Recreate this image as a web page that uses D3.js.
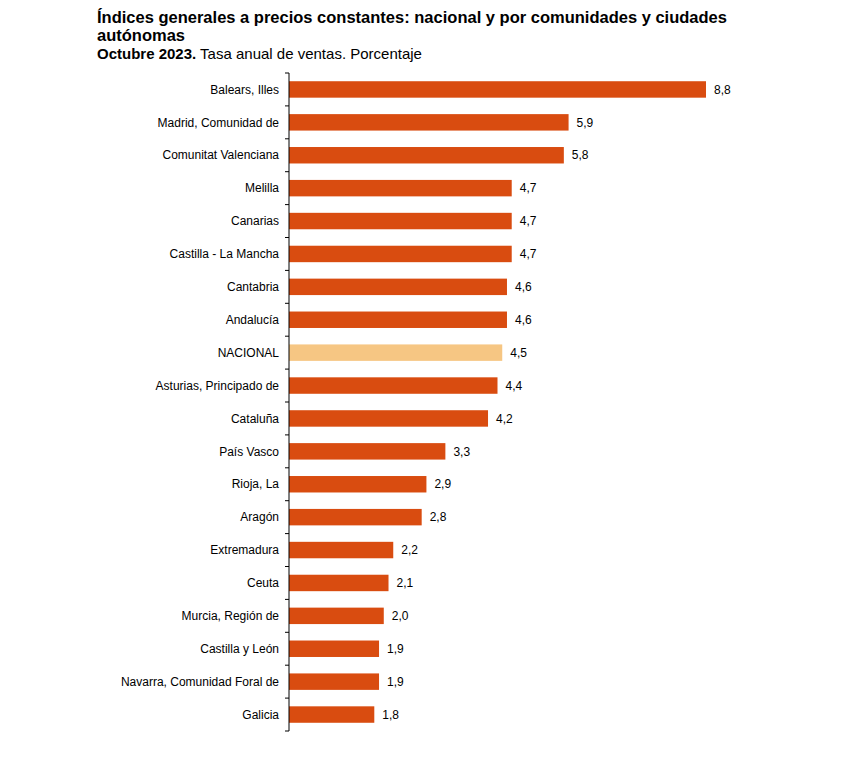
<!DOCTYPE html>
<html><head><meta charset="utf-8">
<script src="https://cdn.jsdelivr.net/npm/d3@7"></script>
<style>body{margin:0;background:#fff;} text{font-family:"Liberation Sans",Arial,sans-serif;}</style>
</head><body>
<svg id="c" width="866" height="760"></svg>
<script>
const categories = ["Balears, Illes","Madrid, Comunidad de","Comunitat Valenciana","Melilla","Canarias","Castilla - La Mancha","Cantabria","Andalucía","NACIONAL","Asturias, Principado de","Cataluña","País Vasco","Rioja, La","Aragón","Extremadura","Ceuta","Murcia, Región de","Castilla y León","Navarra, Comunidad Foral de","Galicia"];
const values = [8.8,5.9,5.8,4.7,4.7,4.7,4.6,4.6,4.5,4.4,4.2,3.3,2.9,2.8,2.2,2.1,2.0,1.9,1.9,1.8];
const titleLines = ["Índices generales a precios constantes: nacional y por comunidades y ciudades","autónomas"];
const subtitleBold = "Octubre 2023.";
const subtitleRest = " Tasa anual de ventas. Porcentaje";

(function(){
const svg = d3.select("#c");
const x0 = 289, yTop = 73, yBot = 731;
const x = d3.scaleLinear().domain([0, 8.8]).range([x0, 706]);
const y = d3.scaleBand().domain(categories).range([yTop, yBot]).paddingInner(0.5).paddingOuter(0.25);

svg.selectAll("text.title").data(titleLines).enter().append("text")
  .attr("x", 97).attr("y", (d,i)=>23+i*18).attr("font-size", 16.5).attr("font-weight","bold").text(d=>d);
const st = svg.append("text").attr("x", 97).attr("y", 59).attr("font-size", 15);
st.append("tspan").attr("font-weight","bold").text(subtitleBold);
st.append("tspan").text(subtitleRest);

svg.selectAll("rect.bar").data(values).enter().append("rect")
  .attr("x", x(0)).attr("y", (d,i)=>y(categories[i]))
  .attr("width", d=>x(d)-x(0)).attr("height", y.bandwidth())
  .attr("fill", (d,i)=>categories[i]==="NACIONAL" ? "#f6c683" : "#d94c10");

svg.selectAll("text.val").data(values).enter().append("text")
  .attr("x", d=>x(d)+8).attr("y", (d,i)=>y(categories[i])+y.bandwidth()/2)
  .attr("dy","0.35em").attr("font-size",12).attr("fill","#000")
  .text(d=>d3.format(".1f")(d).replace(".",","));

const ticks = d3.range(categories.length+1).map(i=>yTop + i*(yBot-yTop)/categories.length);
svg.append("line").attr("x1",x0).attr("x2",x0).attr("y1",yTop).attr("y2",yBot).attr("stroke","#000");
svg.selectAll("line.tk").data(ticks).enter().append("line")
  .attr("x1",x0-4).attr("x2",x0).attr("y1",d=>d).attr("y2",d=>d).attr("stroke","#000");
svg.selectAll("text.cat").data(categories).enter().append("text")
  .attr("x",279).attr("y",d=>y(d)+y.bandwidth()/2).attr("dy","0.35em")
  .attr("text-anchor","end").attr("font-size",12).text(d=>d);
})();
</script>
</body></html>
